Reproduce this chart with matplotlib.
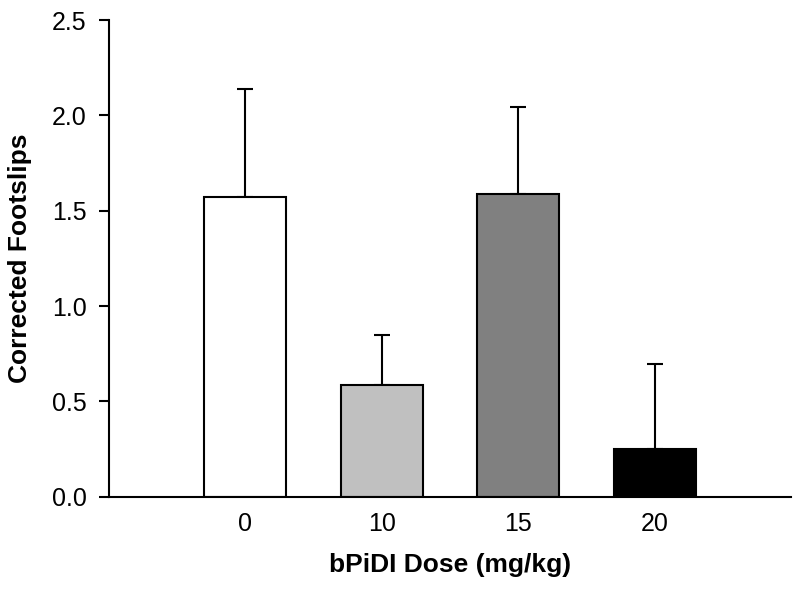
import matplotlib
matplotlib.use("Agg")
import matplotlib.pyplot as plt

categories = ["0", "10", "15", "20"]
means = [1.572, 0.587, 1.588, 0.252]
errors = [0.566, 0.262, 0.456, 0.445]
colors = ["#ffffff", "#c0c0c0", "#808080", "#000000"]

plt.rcParams['font.family'] = ['Liberation Sans', 'DejaVu Sans']

fig = plt.figure(figsize=(8, 5.9), dpi=100)
ax = fig.add_axes([0.136, 0.158, 0.853, 0.808])

x = list(range(len(categories)))
ax.bar(x, means, width=0.6, color=colors, edgecolor="black", linewidth=1.5, zorder=2)
ax.errorbar(x, means, yerr=[[0]*len(errors), errors], fmt="none", ecolor="black",
            elinewidth=1.5, capsize=6, capthick=1.5, zorder=1)

ax.set_xlim(-1, 4)
ax.set_ylim(0, 2.5)
ax.set_yticks([0, 0.5, 1.0, 1.5, 2.0, 2.5])
ax.set_yticklabels(["0.0", "0.5", "1.0", "1.5", "2.0", "2.5"])
ax.set_xticks(x)
ax.set_xticklabels(categories)
ax.tick_params(axis="x", length=0, labelsize=18, pad=11)
ax.tick_params(axis="y", length=7, width=1.5, labelsize=18, direction="out", pad=9)
for s in ["top", "right"]:
    ax.spines[s].set_visible(False)
for s in ["left", "bottom"]:
    ax.spines[s].set_linewidth(1.5)

ax.set_xlabel("bPiDI Dose (mg/kg)", fontsize=19, fontweight="bold", labelpad=12)
ax.set_ylabel("Corrected Footslips", fontsize=19, fontweight="bold", labelpad=14)

fig.savefig("out.png", dpi=100)
